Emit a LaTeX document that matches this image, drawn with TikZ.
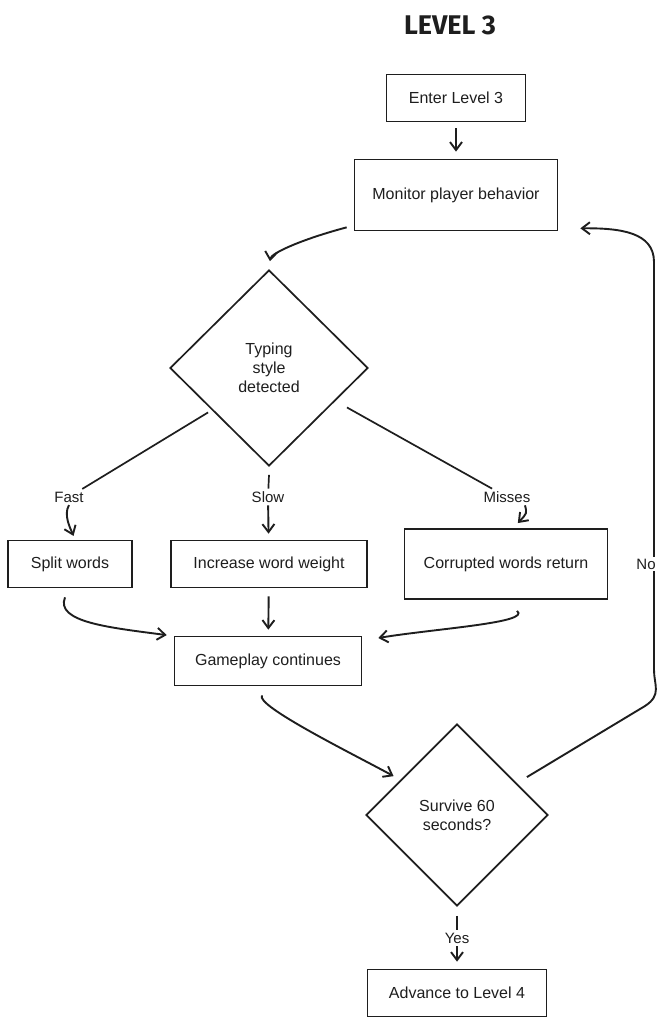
\documentclass[tikz,border=0pt]{standalone}
\usepackage{fontspec}
\usepackage{xcolor}
\setmainfont{Liberation Sans}
\newfontfamily\titlefont{Fira Sans}
\usetikzlibrary{shapes,arrows,positioning,calc,arrows.meta}
\definecolor{ink}{HTML}{1E1E1E}

\begin{document}
\begin{tikzpicture}[x=1pt, y=-1pt, line width=1.7pt, draw=ink, text=ink,
  box/.style={draw, rectangle, align=center, inner sep=0pt, font=\fontsize{16}{19}\selectfont},
  choice/.style={draw, diamond, align=center, inner sep=0pt, font=\fontsize{16}{19}\selectfont},
  lbl/.style={fill=white, inner sep=2pt, font=\fontsize{15}{18}\selectfont},
  arr/.style={line width=1.9pt, -{Straight Barb[length=8pt,width=12pt]}, shorten >=4pt}]

\useasboundingbox (0,0) rectangle (662,1024);

% Title
\node[font=\titlefont\bfseries\fontsize{27}{30}\selectfont] (title) at (450,25) {LEVEL 3};

% Steps
\node[box, minimum width=139pt, minimum height=47pt] (enter) at (456,98) {Enter Level 3};
\node[box, minimum width=203pt, minimum height=71pt] (monitor) at (456,195) {Monitor player behavior};
\node[choice, minimum width=198pt, minimum height=196pt] (typing) at (269,368) {Typing\\style\\detected};

\node[box, minimum width=124pt, minimum height=47pt] (split) at (70,564) {Split words};
\node[box, minimum width=196pt, minimum height=47pt] (increase) at (269,564) {Increase word weight};
\node[box, minimum width=203pt, minimum height=70pt] (corrupt) at (506,564) {Corrupted words return};

\node[box, minimum width=187pt, minimum height=49pt] (game) at (268,661) {Gameplay continues};
\node[choice, minimum width=182pt, minimum height=182pt] (survive) at (457,815) {Survive 60\\seconds?};
\node[box, minimum width=179pt, minimum height=47pt] (advance) at (457,993) {Advance to Level 4};

% Branch labels
\node[lbl] (fast) at (69,497) {Fast};
\node[lbl] (slow) at (268,497) {Slow};
\node[lbl] (misses) at (507,497) {Misses};
\node[lbl] (yes) at (457,938) {Yes};

% Main flow
\draw[arr, shorten <=6pt, shorten >=7pt] (enter) -- (monitor);
\draw[arr, shorten >=8pt] ([xshift=-7pt,yshift=4pt]monitor.south west) .. controls +(-45,12) and +(2,-16) .. (typing.north);

% Typing style branches
\draw ([xshift=-11pt,yshift=5pt]typing.south west) -- (fast);
\draw[arr] (fast.south) .. controls +(-6,10) and +(-4,-10) .. ([xshift=5pt]split.north);
\draw ([yshift=-8pt]typing.south) -- (slow);
\draw[arr, shorten >=6pt] (slow) -- (increase);
\draw ([xshift=28pt,yshift=10pt]typing.south east) -- (misses);
\draw[arr, shorten >=7pt] ([xshift=18pt]misses.south) .. controls +(2,8) .. ([xshift=7pt]corrupt.north);

% Back to gameplay
\draw[arr] ([xshift=-5pt,yshift=-9pt]split.south) .. controls +(-10,25) and +(-60,-8) .. ([xshift=-3pt]game.north west);
\draw[arr, shorten <=8pt, shorten >=6pt] (increase) -- (game);
\draw[arr] ([xshift=11pt,yshift=-11pt]corrupt.south) .. controls +(15,12) and +(60,-10) .. ([xshift=12pt,yshift=-3pt]game.north east);

% Timer check
\draw[arr] ([xshift=-6pt,yshift=-9pt]game.south) .. controls +(-8,10) and +(-40,-22) .. ([xshift=-14pt,yshift=-9pt]survive.north west);
\draw ([yshift=-9pt]survive.south) -- (yes);
\draw[arr, shorten >=7pt] (yes) -- (advance);
\draw[arr] ([xshift=24pt,yshift=-8pt]survive.north east) -- (645,706) .. controls (662,695) and (654,685) .. (654,670)
  -- (654,564) node[lbl, xshift=-8pt] (no) {No} -- (654,262) .. controls (654,232) and (620,228) .. ([xshift=18pt,yshift=3pt]monitor.south east);
\end{tikzpicture}
\end{document}
